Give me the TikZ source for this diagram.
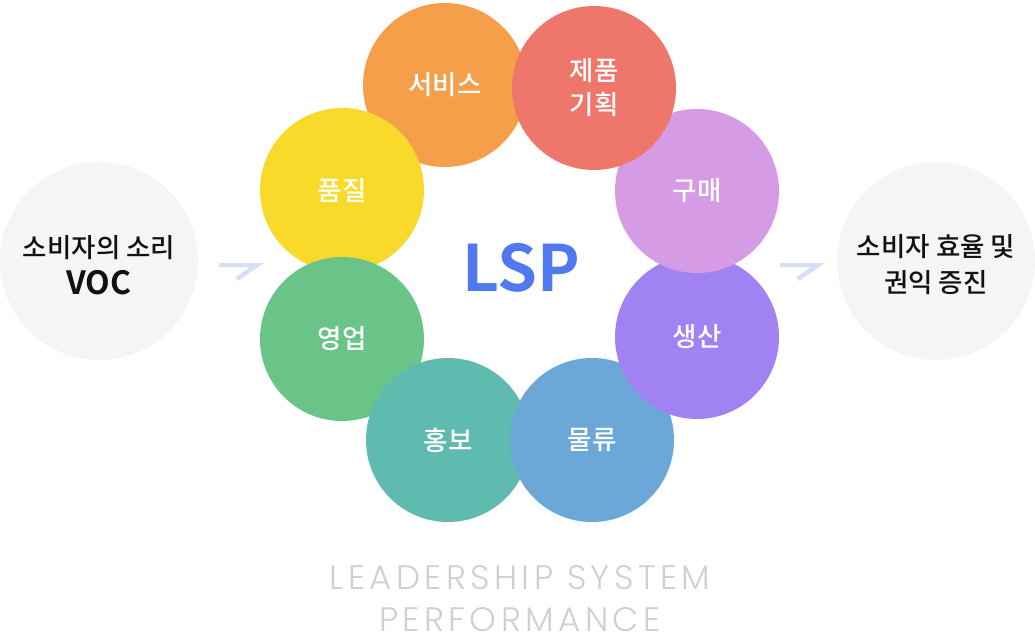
\documentclass[tikz,border=0pt]{standalone}
\usepackage{fontspec}
\setmainfont{Noto Sans CJK KR Medium}[BoldFont={Noto Sans CJK KR Bold}]
\newfontfamily\pop{Poppins Light}[LetterSpace=13]
\definecolor{cOrange}{HTML}{F59F4B}
\definecolor{cRed}{HTML}{EE766A}
\definecolor{cYellow}{HTML}{F9DA2A}
\definecolor{cPurple}{HTML}{D59BE5}
\definecolor{cGreen}{HTML}{6AC387}
\definecolor{cViolet}{HTML}{A182F3}
\definecolor{cTeal}{HTML}{5FBBAF}
\definecolor{cBlue}{HTML}{6BA8D8}
\definecolor{cGray}{HTML}{F5F5F5}
\definecolor{cLsp}{HTML}{5079EF}
\definecolor{cText}{HTML}{111111}
\definecolor{cFoot}{HTML}{D0D0D0}
\definecolor{cArrow}{HTML}{D6DEFA}
\tikzset{
  petal/.style={circle, minimum size=164pt, inner sep=0pt, text=white, align=center,
    font=\fontsize{26.5}{34}\selectfont},
  sidecircle/.style={circle, fill=cGray, minimum size=198pt, inner sep=0pt},
  sidetext/.style={text=cText, align=center, font=\fontsize{26.5}{40}\selectfont},
  arrowshape/.style={draw=cArrow, line width=4.5pt, miter limit=10},
}
\begin{document}
\begin{tikzpicture}[x=1pt,y=-1pt]
\useasboundingbox (0,0) rectangle (1035,642);
% side circles
\node[sidecircle] (voc) at (99,261) {};
\node[sidecircle] (out) at (936,261) {};
\node[sidetext] (voctext) at (99,265) {소비자의 소리\\[-3pt]{\fontsize{32}{32}\selectfont\bfseries VOC}};
\node[sidetext] (outtext) at (936,265) {소비자 효율 및\\[-4pt]권익 증진};
% petals, back to front
\node[petal, fill=cOrange] (svc) at (445,85) {서비스};
\node[petal, fill=cYellow] (qual) at (342,190) {품질};
\node[petal, fill=cGreen] (sales) at (342,339) {영업};
\node[petal, fill=cTeal] (pr) at (448,440) {홍보};
\node[petal, fill=cBlue] (logi) at (592,440) {물류};
\node[petal, fill=cViolet] (prod) at (697,337) {생산};
\node[petal, fill=cPurple] (buy) at (697,191) {구매};
\node[petal, fill=cRed] (plan) at (594,88) {제품\\기획};
% center
\node[text=cLsp, font=\fontsize{64}{64}\selectfont\bfseries] (lsp) at (521,268) {LSP};
% arrows
\coordinate (a1) at (219,265);
\coordinate (a2) at (780,265);
\draw[arrowshape] (a1) -- ++(38,0) -- ++(-20,14);
\draw[arrowshape] (a2) -- ++(38,0) -- ++(-20,14);
% footer
\node[text=cFoot, font=\pop\fontsize{34}{42}\selectfont, align=center] (foot) at (520,599) {LEADERSHIP SYSTEM\\PERFORMANCE};
\end{tikzpicture}
\end{document}
